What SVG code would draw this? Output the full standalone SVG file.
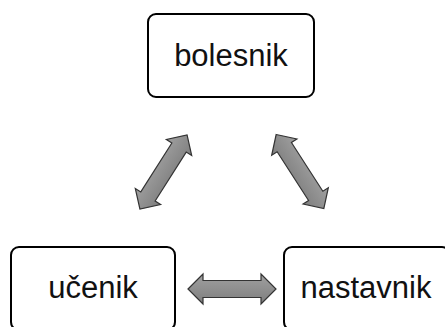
<svg xmlns="http://www.w3.org/2000/svg" width="445" height="327" viewBox="0 0 445 327">
<style>
.box{fill:#fff;stroke:#000;stroke-width:2}
.lbl{font-family:"Liberation Sans",Arial,sans-serif;font-size:31px;fill:#111;text-anchor:middle}
.arr{fill:url(#g);stroke:#333;stroke-width:1.2;stroke-linejoin:miter}
</style>
<defs>
<linearGradient id="g" x1="0" y1="0" x2="0" y2="1">
<stop offset="0" stop-color="#a0a0a0"/>
<stop offset="1" stop-color="#7e7e7e"/>
</linearGradient>
<path id="da" d="M-44,0 L-29,-15 L-29,-8.5 L29,-8.5 L29,-15 L44,0 L29,15 L29,8.5 L-29,8.5 L-29,15 Z"/>
</defs>
<g id="connectors">
<use href="#da" class="arr" transform="translate(163.5,172) rotate(-57.6)"/>
<use href="#da" class="arr" transform="translate(300,171.5) rotate(57.2)"/>
<use href="#da" class="arr" transform="translate(232,289)"/>
</g>
<g id="bolesnik">
<rect class="box" x="148" y="14" width="166" height="83" rx="8"/>
<text class="lbl" x="231" y="66">bolesnik</text>
</g>
<g id="ucenik">
<rect class="box" x="11" y="247" width="164" height="83" rx="8"/>
<text class="lbl" x="93" y="298">učenik</text>
</g>
<g id="nastavnik">
<rect class="box" x="284" y="247" width="166" height="83" rx="8"/>
<text class="lbl" x="366" y="298">nastavnik</text>
</g>
</svg>
